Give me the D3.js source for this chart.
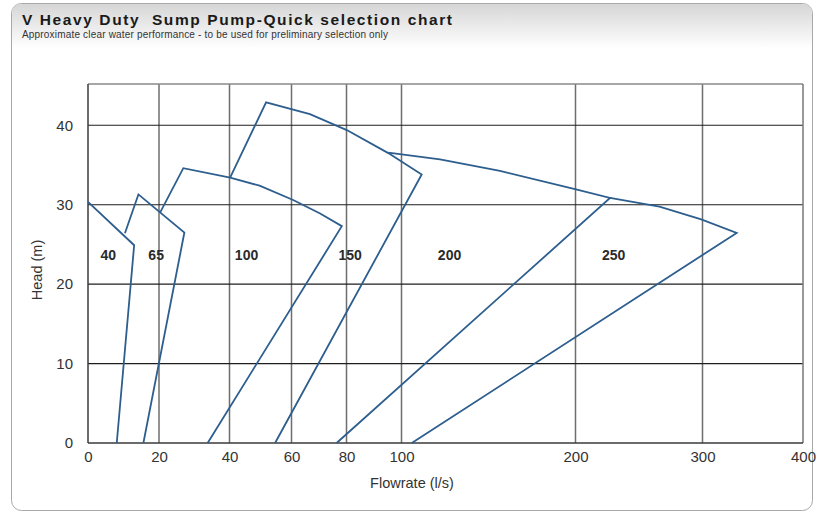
<!DOCTYPE html>
<html>
<head>
<meta charset="utf-8">
<script src="https://cdn.jsdelivr.net/npm/d3@7"></script>
<style>
  html, body { margin: 0; padding: 0; background: #ffffff; }
  svg { display: block; font-family: "Liberation Sans", Arial, Helvetica, sans-serif; }
</style>
</head>
<body>
<svg id="chart" width="818" height="514"></svg>
<script>
// ---------- data ----------
const flowTicks = [0, 20, 40, 60, 80, 100, 200, 300, 400];
const headTicks = [0, 10, 20, 30, 40];
const pumpSizes = ["40", "65", "100", "150", "200", "250"];

const pump40Flow  = [0, 13.0, 8.1];
const pump40Head  = [30.35, 24.9, 0];
const pump65Flow  = [10.4, 14.2, 27.2, 15.6];
const pump65Head  = [26.4, 31.3, 26.5, 0];
const pump100Flow = [20.3, 26.9, 40.2, 49.7, 60.6, 70.4, 78.3, 33.8];
const pump100Head = [29.0, 34.6, 33.4, 32.4, 30.6, 28.9, 27.3, 0];
const pump150Flow = [40.2, 51.8, 66.7, 80.1, 95.2, 111.6, 54.7];
const pump150Head = [33.4, 42.9, 41.4, 39.4, 36.5, 33.8, 0];
const pump200Flow = [95.2, 122.1, 156.6, 199.7, 227.2, 76.4];
const pump200Head = [36.55, 35.7, 34.25, 31.95, 30.85, 0];
const pump250Flow = [227.2, 266.1, 299, 334, 105.9];
const pump250Head = [30.85, 29.75, 28.15, 26.45, 0];

const labelFlow = [5.7, 19.2, 45.5, 81.3, 127.6, 230.1];
const labelHead = [23.0, 23.0, 23.0, 23.0, 23.0, 23.0];

// ---------- layout ----------
const svg = d3.select("#chart");
const pL = 88, pR = 803, pT = 84, pB = 443;

// piecewise-linear flow axis as in the reference (non-uniform spacing)
const x = d3.scaleLinear()
  .domain(flowTicks)
  .range([88, 159, 229.5, 291.5, 346.5, 401.5, 575.5, 702.5, 803]);
const y = d3.scaleLinear().domain([0, 45.2]).range([pB, pT]);

// ---------- panel ----------
const defs = svg.append("defs");
const grad = defs.append("linearGradient").attr("id", "hdr")
  .attr("x1", 0).attr("y1", 0).attr("x2", 0).attr("y2", 1);
grad.append("stop").attr("offset", "0%").attr("stop-color", "#d6d6d6");
grad.append("stop").attr("offset", "100%").attr("stop-color", "#ffffff");

svg.append("rect").attr("x", 11.5).attr("y", 3.5).attr("width", 801).attr("height", 507)
  .attr("rx", 10).attr("fill", "#ffffff").attr("stroke", "#a8a8a8").attr("stroke-width", 1);
svg.append("path")
  .attr("d", "M12,48 L12,14 Q12,4 22,4 L802,4 Q812,4 812,14 L812,48 Z")
  .attr("fill", "url(#hdr)");

svg.append("text").attr("x", 22).attr("y", 24.5)
  .style("white-space", "pre")
  .attr("font-size", 15.5).attr("font-weight", "bold").attr("fill", "#1a1a1a")
  .attr("textLength", 430).attr("lengthAdjust", "spacing")
  .text("V Heavy Duty  Sump Pump-Quick selection chart");
svg.append("text").attr("x", 22).attr("y", 37.5)
  .attr("font-size", 10).attr("fill", "#333")
  .attr("textLength", 366).attr("lengthAdjust", "spacing")
  .text("Approximate clear water performance - to be used for preliminary selection only");

// ---------- grid ----------
const g = svg.append("g");
g.selectAll("line.vgrid").data(flowTicks.slice(1, -1)).enter().append("line")
  .attr("x1", d => x(d)).attr("x2", d => x(d))
  .attr("y1", pT).attr("y2", pB)
  .attr("stroke", "#6e6e6e").attr("stroke-width", 1.5);
g.selectAll("line.hgrid").data(headTicks.slice(1)).enter().append("line")
  .attr("x1", pL).attr("x2", pR)
  .attr("y1", d => y(d)).attr("y2", d => y(d))
  .attr("stroke", "#1e1e1e").attr("stroke-width", 1.1);

// plot frame
g.append("line").attr("x1", pL).attr("x2", pR).attr("y1", pT).attr("y2", pT)
  .attr("stroke", "#8a8a8a").attr("stroke-width", 1.5);
g.append("line").attr("x1", pR).attr("x2", pR).attr("y1", pT).attr("y2", pB)
  .attr("stroke", "#777").attr("stroke-width", 1.5);
g.append("line").attr("x1", pL).attr("x2", pL).attr("y1", pT).attr("y2", pB)
  .attr("stroke", "#3a3a3a").attr("stroke-width", 1.5);
g.append("line").attr("x1", pL).attr("x2", pR).attr("y1", pB).attr("y2", pB)
  .attr("stroke", "#3a3a3a").attr("stroke-width", 1.5);

// ---------- axes ----------
const xAxis = svg.append("g").attr("transform", `translate(0,${pB})`)
  .call(d3.axisBottom(x).tickValues(flowTicks).tickSize(0).tickPadding(8).tickFormat(d3.format("d")));
const yAxis = svg.append("g").attr("transform", `translate(${pL},0)`)
  .call(d3.axisLeft(y).tickValues(headTicks).tickSize(0).tickPadding(15).tickFormat(d3.format("d")));
[xAxis, yAxis].forEach(a => {
  a.select(".domain").remove();
  a.selectAll("text").attr("font-size", 15).attr("fill", "#333")
    .attr("font-family", "'Liberation Sans', Arial, Helvetica, sans-serif");
});

svg.append("text").attr("x", 412).attr("y", 488).attr("text-anchor", "middle")
  .attr("font-size", 14.5).attr("fill", "#333").text("Flowrate (l/s)");
svg.append("text").attr("transform", "translate(42,270) rotate(-90)")
  .attr("text-anchor", "middle").attr("font-size", 14.5).attr("fill", "#333").text("Head (m)");

// ---------- pump curves ----------
const curves = [
  [pump40Flow, pump40Head], [pump65Flow, pump65Head], [pump100Flow, pump100Head],
  [pump150Flow, pump150Head], [pump200Flow, pump200Head], [pump250Flow, pump250Head]
];
const line = d3.line().x(d => x(d[0])).y(d => y(d[1]));
curves.forEach(([fl, hd]) => {
  const pts = fl.map((f, i) => [f, hd[i]]);
  svg.append("path").datum(pts).attr("d", line)
    .attr("fill", "none").attr("stroke", "#2d5e8e").attr("stroke-width", 1.8)
    .attr("stroke-linejoin", "miter");
});

// ---------- size labels ----------
svg.selectAll("text.size").data(pumpSizes).enter().append("text")
  .attr("x", (d, i) => x(labelFlow[i])).attr("y", (d, i) => y(labelHead[i]))
  .attr("text-anchor", "middle").attr("font-size", 14).attr("font-weight", "bold")
  .attr("fill", "#2a2a2a").text(d => d);
</script>
</body>
</html>
